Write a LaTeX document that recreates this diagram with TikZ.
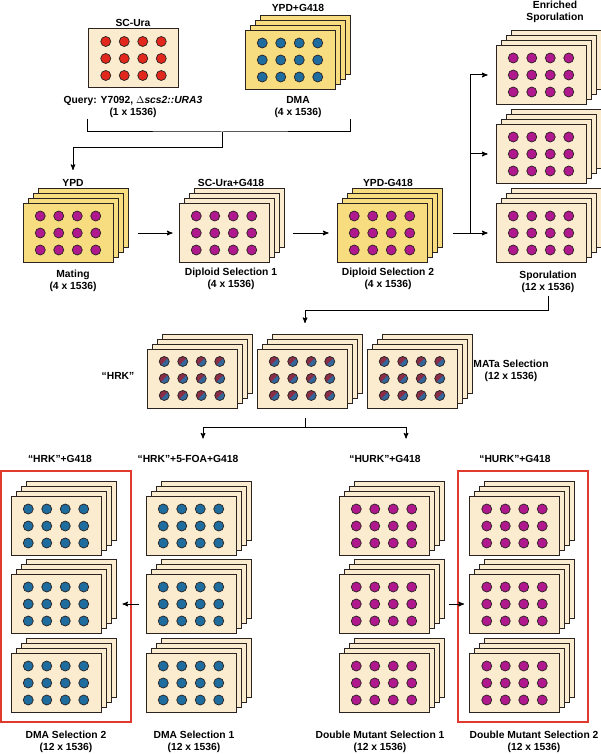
\documentclass[tikz,border=0pt]{standalone}
\usepackage{fontspec}
\setmainfont{Liberation Sans}
\usepackage{tikz}
\usetikzlibrary{arrows}
\usetikzlibrary{shadows}
\usetikzlibrary{calc}
\definecolor{cream}{HTML}{FBEBCF}
\definecolor{straw}{HTML}{F8DC80}
\definecolor{edge}{HTML}{2A231F}
\definecolor{spotred}{HTML}{E2281D}
\definecolor{spotblue}{HTML}{1F6C9E}
\definecolor{spotmag}{HTML}{B0188E}
\definecolor{matred}{HTML}{8A2E48}
\definecolor{matblue}{HTML}{33669A}
\definecolor{framered}{HTML}{E03A2F}
\tikzset{
  plate label/.style={font=\bfseries\fontsize{10.3}{12}\selectfont,align=center,inner sep=0pt},
}
\begin{document}
\begin{tikzpicture}[x=1pt,y=-1pt,>=stealth',line width=1pt,
    colony/.style={fill=black},
    colony half/.style={},
    plate/.style={rectangle,draw=edge,line width=1pt,minimum width=90pt,minimum height=59pt,inner sep=0pt,
      path picture={
        \foreach \cx in {-27.75,-9.25,9.25,27.75}
          \foreach \cy in {-17,0,17}{
            \coordinate (spot) at ($(path picture bounding box.center)+(\cx,\cy)$);
            \path[colony] (spot) circle (5pt);
            \path[colony half] ($(spot)+(45:5pt)$) arc (45:225:5pt) -- cycle;
            \draw[edge,line width=0.7pt] (spot) circle (5pt);}}},
    back plates/.style={
      general shadow={shadow xshift=15pt,shadow yshift=15pt,fill=#1,draw=edge,line width=1pt},
      general shadow={shadow xshift=10pt,shadow yshift=10pt,fill=#1,draw=edge,line width=1pt},
      general shadow={shadow xshift=5pt,shadow yshift=5pt,fill=#1,draw=edge,line width=1pt}},
    cream plate/.style={plate,fill=cream},
    yellow plate/.style={plate,fill=straw},
    cream stack/.style={cream plate,back plates=cream},
    yellow stack/.style={yellow plate,back plates=straw},
    red colonies/.style={colony/.style={fill=spotred}},
    blue colonies/.style={colony/.style={fill=spotblue}},
    magenta colonies/.style={colony/.style={fill=spotmag}},
    mixed colonies/.style={colony/.style={fill=matblue},colony half/.style={fill=matred}},
    red frame/.style={draw=framered,line width=2pt}]
  \useasboundingbox (0,0) rectangle (600,754);

  % parent strains
  \node[cream plate, red colonies] (query) at (133.5,58.5) {};
  \node[yellow stack, blue colonies] (dma) at (290,60) {};
  \node[plate label] (scura) at (133,23) {SC-Ura};
  \node[plate label] (ypdg) at (298,8) {YPD+G418};
  \node[plate label] (qlab) at (133,107) {Query: Y7092, $\Delta$\textit{scs2::URA3}\\(1 x 1536)};
  \node[plate label] (dlab) at (298,107) {DMA\\(4 x 1536)};

  % mating and diploid selection
  \node[yellow stack, magenta colonies] (mating) at (68,233) {};
  \node[cream stack, magenta colonies, right of=mating, node distance=156pt] (dip1) {};
  \node[yellow stack, magenta colonies, right of=dip1, node distance=158pt] (dip2) {};
  \node[plate label] (ypd) at (73,183) {YPD};
  \node[plate label] (scg) at (231,183) {SC-Ura+G418};
  \node[plate label] (ypdm) at (388,183) {YPD-G418};
  \node[plate label] (matlab) at (73,281) {Mating\\(4 x 1536)};
  \node[plate label] (d1lab) at (231,279) {Diploid Selection 1\\(4 x 1536)};
  \node[plate label] (d2lab) at (388,279) {Diploid Selection 2\\(4 x 1536)};

  % sporulation
  \node[cream stack, magenta colonies, right of=dip2, node distance=159pt] (spor3) {};
  \node[cream stack, magenta colonies, above of=spor3, node distance=79pt] (spor2) {};
  \node[cream stack, magenta colonies, above of=spor2, node distance=79pt] (spor1) {};
  \node[plate label] (enr) at (555,12) {Enriched\\Sporulation};
  \node[plate label] (splab) at (548,281.5) {Sporulation\\(12 x 1536)};

  % MATa selection
  \node[cream stack, mixed colonies] (mata2) at (302,378.5) {};
  \node[cream stack, mixed colonies, left of=mata2, node distance=110pt] (mata1) {};
  \node[cream stack, mixed colonies, right of=mata2, node distance=110pt] (mata3) {};
  \node[plate label] (hrk) at (118,376) {“HRK”};
  \node[plate label] (matalab) at (511,370.5) {MATa Selection\\(12 x 1536)};

  % DMA selection
  \node[cream stack, blue colonies] (hrk1) at (56,526) {};
  \node[cream stack, blue colonies, below of=hrk1, node distance=78pt] (hrk2) {};
  \node[cream stack, blue colonies, below of=hrk2, node distance=79pt] (hrk3) {};
  \node[cream stack, blue colonies, right of=hrk1, node distance=135pt] (foa1) {};
  \node[cream stack, blue colonies, right of=hrk2, node distance=135pt] (foa2) {};
  \node[cream stack, blue colonies, right of=hrk3, node distance=135pt] (foa3) {};
  \node[plate label] (hrkg) at (60,459) {“HRK”+G418};
  \node[plate label] (foag) at (188,459) {“HRK”+5-FOA+G418};
  \node[plate label] (dma2lab) at (66,742) {DMA Selection 2\\(12 x 1536)};
  \node[plate label] (dma1lab) at (194,742) {DMA Selection 1\\(12 x 1536)};

  % double mutant selection
  \node[cream stack, magenta colonies] (hurk1) at (384,526) {};
  \node[cream stack, magenta colonies, below of=hurk1, node distance=78pt] (hurk2) {};
  \node[cream stack, magenta colonies, below of=hurk2, node distance=79pt] (hurk3) {};
  \node[cream stack, magenta colonies, right of=hurk1, node distance=130.5pt] (dm1) {};
  \node[cream stack, magenta colonies, right of=hurk2, node distance=130.5pt] (dm2) {};
  \node[cream stack, magenta colonies, right of=hurk3, node distance=130.5pt] (dm3) {};
  \node[plate label] (hurkg) at (385,459) {“HURK”+G418};
  \node[plate label] (dmg) at (515,459) {“HURK”+G418};
  \node[plate label] (dm1lab) at (380,742) {Double Mutant Selection 1\\(12 x 1536)};
  \node[plate label] (dm2lab) at (534,742) {Double Mutant Selection 2\\(12 x 1536)};

  % final selections
  \draw[red frame] ($(hrk1.north west)+(-10,-25)$) rectangle ($(hrk3.south east)+(29,9)$);
  \draw[red frame] ($(dm1.north west)+(-11,-25)$) rectangle ($(dm3.south east)+(28,9)$);

  % connectors
  \coordinate (join) at (222,132);
  \draw ($(query.west |- join)+(-1,-13)$) |- (join) -| ($(dma.east |- join)+(15,-13)$);
  \draw[->] (join) -- ++(0,16) -| ([yshift=9pt]ypd.north);
  \draw[->] ([xshift=24pt]mating.east) -- ([xshift=-6pt]dip1.west);
  \draw[->] ([xshift=23pt]dip1.east) -- ([xshift=-8pt]dip2.west);
  \coordinate (fork) at ($(spor3.west)+(-25,0)$);
  \draw ([xshift=25pt]dip2.east) -- (fork);
  \foreach \s in {spor1,spor2,spor3}
    \draw[->] (fork) |- ([xshift=-8pt]\s.west);
  \draw[->] ([yshift=-3pt]splab.south) -- ++(0,15) -| ([xshift=3pt,yshift=25.5pt]mata2.north);
  \coordinate (split) at ($(mata2.south)+(3,19)$);
  \draw (split) -- ++(0,-10);
  \draw[<->] ([xshift=-102pt,yshift=-11pt]split) |- (split) -| ([xshift=101pt,yshift=-11pt]split);
  \draw[->] ([xshift=-7pt]foa2.west) -- ([xshift=21pt]hrk2.east);
  \draw[->] ([xshift=19pt]hurk2.east) -- ([xshift=-5pt]dm2.west);
\end{tikzpicture}
\end{document}
